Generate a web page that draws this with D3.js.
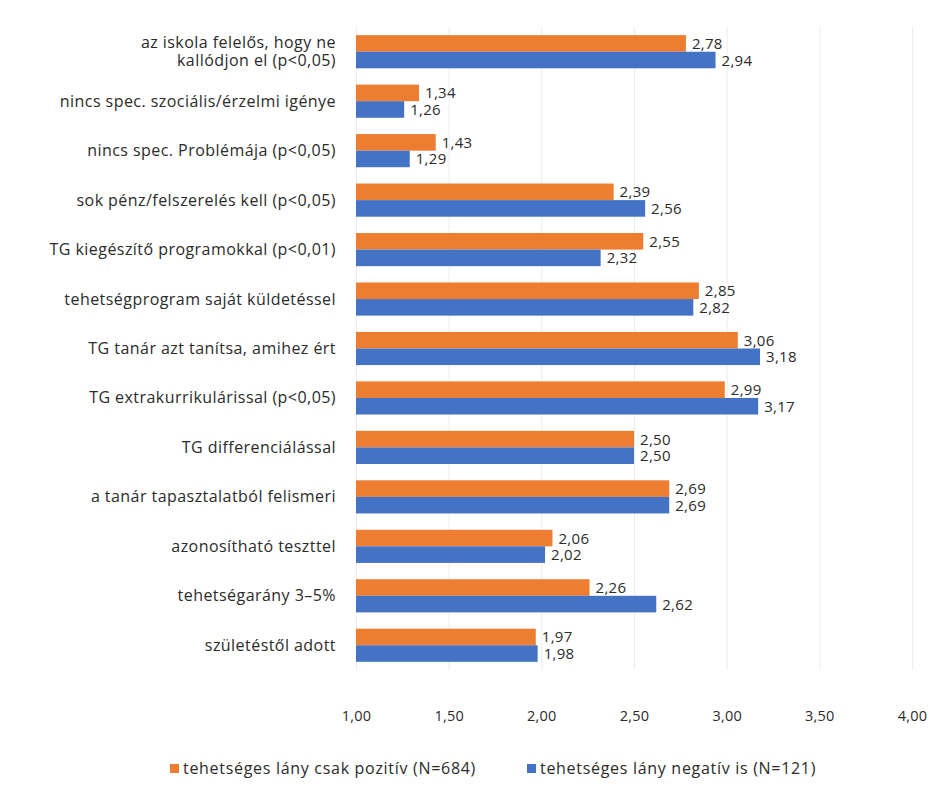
<!DOCTYPE html>
<html>
<head>
<meta charset="utf-8">
<script src="https://cdn.jsdelivr.net/npm/d3@7"></script>
<style>
  body { margin: 0; background: #fff; }
  text { font-family: "Open Sans", "Noto Sans", sans-serif; fill: #2b2b2b; }
</style>
</head>
<body>
<svg id="chart" width="934" height="790"></svg>
<script>
const categories = [
  ["az iskola felelős, hogy ne", "kallódjon el (p<0,05)"],
  ["nincs spec. szociális/érzelmi igénye"],
  ["nincs spec. Problémája (p<0,05)"],
  ["sok pénz/felszerelés kell (p<0,05)"],
  ["TG kiegészítő programokkal (p<0,01)"],
  ["tehetségprogram saját küldetéssel"],
  ["TG tanár azt tanítsa, amihez ért"],
  ["TG extrakurrikulárissal (p<0,05)"],
  ["TG differenciálással"],
  ["a tanár tapasztalatból felismeri"],
  ["azonosítható teszttel"],
  ["tehetségarány 3–5%"],
  ["születéstől adott"]
];
const seriesNames = ["tehetséges lány csak pozitív (N=684)", "tehetséges lány negatív is (N=121)"];
const positiveValues = [2.78, 1.34, 1.43, 2.39, 2.55, 2.85, 3.06, 2.99, 2.50, 2.69, 2.06, 2.26, 1.97];
const negativeValues = [2.94, 1.26, 1.29, 2.56, 2.32, 2.82, 3.18, 3.17, 2.50, 2.69, 2.02, 2.62, 1.98];
const tickValues = [1.0, 1.5, 2.0, 2.5, 3.0, 3.5, 4.0];
const tickLabels = ["1,00", "1,50", "2,00", "2,50", "3,00", "3,50", "4,00"];
const colors = ["#ED7D31", "#4472C4"];

(function () {
const svg = d3.select("#chart");
const pLeft = 356, pRight = 912, pTop = 27, pBottom = 670;

const x = d3.scaleLinear().domain([1, 4]).range([pLeft, pRight]);
const y = d3.scaleBand().domain(d3.range(categories.length)).range([pTop, pBottom]).paddingInner(0.33).paddingOuter(0.165);
const sub = d3.scaleBand().domain([0, 1]).range([0, y.bandwidth()]);

// gridlines
svg.append("g")
  .attr("transform", `translate(0,${pBottom})`)
  .call(d3.axisBottom(x).tickValues(tickValues).tickSize(-(pBottom - pTop)).tickFormat(""))
  .call(g => g.select(".domain").remove())
  .call(g => g.selectAll("line").attr("stroke", "#ebebeb"));

// axis labels
svg.append("g")
  .attr("transform", `translate(0,${pBottom})`)
  .call(d3.axisBottom(x).tickValues(tickValues).tickSize(0).tickPadding(41)
    .tickFormat((d, i) => tickLabels[i]))
  .call(g => g.select(".domain").remove())
  .call(g => g.selectAll("text").style("font-size", "14.5px").attr("fill", "#3a3a3a")
    .style("font-family", "'Open Sans', sans-serif").style("letter-spacing", "0.2px"));

const series = [positiveValues, negativeValues];
series.forEach((vals, s) => {
  svg.append("g").selectAll("rect").data(vals).join("rect")
    .attr("x", x(1))
    .attr("y", (d, i) => y(i) + sub(s))
    .attr("width", d => x(d) - x(1))
    .attr("height", sub.bandwidth())
    .attr("fill", colors[s]);
  svg.append("g").selectAll("text").data(vals).join("text")
    .attr("x", d => x(d) + 6)
    .attr("y", (d, i) => y(i) + sub(s) + sub.bandwidth() / 2 + 5.5)
    .style("font-size", "15px")
    .style("letter-spacing", "0.3px")
    .text(d => d3.format(".2f")(d).replace(".", ","));
});

// category labels
const cl = svg.append("g").selectAll("text").data(categories).join("text")
  .attr("text-anchor", "end")
  .attr("x", 336)
  .attr("y", (d, i) => y(i) + y.bandwidth() / 2 + 5.5 - (d.length - 1) * 9)
  .style("font-size", "16px")
  .style("letter-spacing", "0.45px");
cl.selectAll("tspan").data(d => d).join("tspan")
  .attr("x", 336)
  .attr("dy", (d, i) => i === 0 ? 0 : 18)
  .text(d => d);

// legend
const legendX = [170, 527];
seriesNames.forEach((name, s) => {
  svg.append("rect").attr("x", legendX[s]).attr("y", 764).attr("width", 9).attr("height", 9).attr("fill", colors[s]);
  svg.append("text").attr("x", legendX[s] + 13).attr("y", 774).style("font-size", "16px")
    .style("letter-spacing", "0.7px").text(name);
});
})();
</script>
</body>
</html>
